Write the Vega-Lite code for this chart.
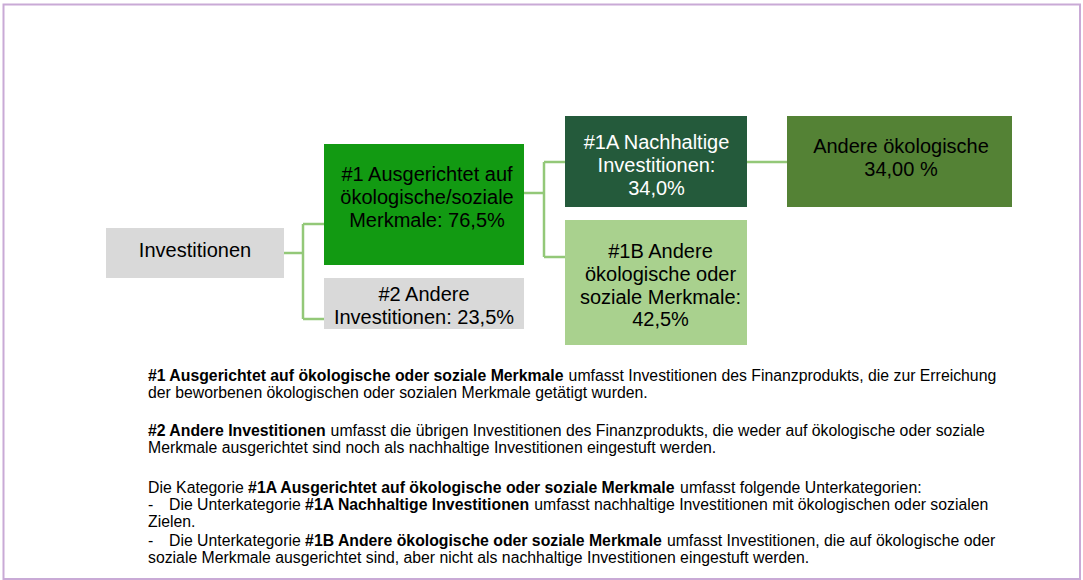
{
  "$schema": "https://vega.github.io/schema/vega-lite/v6.json",
  "width": 1083,
  "height": 580,
  "autosize": {"type": "fit", "contains": "padding"},
  "padding": 0,
  "background": "white",
  "config": {"view": {"stroke": null}},
  "datasets": {
    "boxes": [
      {"id": "inv", "label": "Investitionen", "x0": 106, "x1": 284, "y0": 228, "y1": 278, "tx": 195, "ty": 251},
      {"id": "b1", "label": "#1 Ausgerichtet auf\nökologische/soziale\nMerkmale: 76,5%", "x0": 324, "x1": 524, "y0": 144, "y1": 265, "tx": 427, "ty": 175},
      {"id": "b2", "label": "#2 Andere\nInvestitionen: 23,5%", "x0": 324, "x1": 524, "y0": 278, "y1": 329, "tx": 424, "ty": 295},
      {"id": "b1A", "label": "#1A Nachhaltige\nInvestitionen:\n34,0%", "x0": 565, "x1": 747, "y0": 116, "y1": 207, "tx": 656.5, "ty": 143},
      {"id": "oth", "label": "Andere ökologische\n34,00 %", "x0": 787, "x1": 1012, "y0": 116, "y1": 207, "tx": 901, "ty": 147},
      {"id": "b1B", "label": "#1B Andere\nökologische oder\nsoziale Merkmale:\n42,5%", "x0": 565, "x1": 747, "y0": 220, "y1": 345, "tx": 660.5, "ty": 252}
    ],
    "links": [
      {"x": 284, "x2": 303, "y": 253, "y2": 253},
      {"x": 303, "x2": 303, "y": 224, "y2": 319},
      {"x": 303, "x2": 324, "y": 224, "y2": 224},
      {"x": 303, "x2": 324, "y": 319, "y2": 319},
      {"x": 524, "x2": 544, "y": 193, "y2": 193},
      {"x": 544, "x2": 544, "y": 162, "y2": 257},
      {"x": 544, "x2": 565, "y": 162, "y2": 162},
      {"x": 544, "x2": 565, "y": 257, "y2": 257},
      {"x": 747, "x2": 787, "y": 162, "y2": 162}
    ],
    "notes": [
      {"line": 381, "col": 148, "text": "#1 Ausgerichtet auf ökologische oder soziale Merkmale", "bold": true},
      {"line": 381, "col": 568.6, "text": "umfasst Investitionen des Finanzprodukts, die zur Erreichung", "bold": false},
      {"line": 398, "col": 148, "text": "der beworbenen ökologischen oder sozialen Merkmale getätigt wurden.", "bold": false},
      {"line": 436, "col": 148, "text": "#2 Andere Investitionen", "bold": true},
      {"line": 436, "col": 330.6, "text": "umfasst die übrigen Investitionen des Finanzprodukts, die weder auf ökologische oder soziale", "bold": false},
      {"line": 453, "col": 148, "text": "Merkmale ausgerichtet sind noch als nachhaltige Investitionen eingestuft werden.", "bold": false},
      {"line": 493, "col": 148, "text": "Die Kategorie", "bold": false},
      {"line": 493, "col": 248.1, "text": "#1A Ausgerichtet auf ökologische oder soziale Merkmale", "bold": true},
      {"line": 493, "col": 680.1, "text": "umfasst folgende Unterkategorien:", "bold": false},
      {"line": 510, "col": 148, "text": "-", "bold": false},
      {"line": 510, "col": 169, "text": "Die Unterkategorie", "bold": false},
      {"line": 510, "col": 305.1, "text": "#1A Nachhaltige Investitionen", "bold": true},
      {"line": 510, "col": 534.3, "text": "umfasst nachhaltige Investitionen mit ökologischen oder sozialen", "bold": false},
      {"line": 527, "col": 148, "text": "Zielen.", "bold": false},
      {"line": 546, "col": 148, "text": "-", "bold": false},
      {"line": 546, "col": 169, "text": "Die Unterkategorie", "bold": false},
      {"line": 546, "col": 305.1, "text": "#1B Andere ökologische oder soziale Merkmale", "bold": true},
      {"line": 546, "col": 666.9, "text": "umfasst Investitionen, die auf ökologische oder", "bold": false},
      {"line": 563, "col": 148, "text": "soziale Merkmale ausgerichtet sind, aber nicht als nachhaltige Investitionen eingestuft werden.", "bold": false}
    ]
  },
  "layer": [
    {
      "data": {"values": [{"x0": 3.5, "x1": 1080, "y0": 4.5, "y1": 579}]},
      "mark": {"type": "rect", "fill": null, "stroke": "#c9aad6", "strokeWidth": 2},
      "encoding": {
        "x": {"field": "x0", "type": "quantitative", "scale": {"domain": [0, 1083], "nice": false, "zero": false}, "axis": null},
        "x2": {"field": "x1"},
        "y": {"field": "y0", "type": "quantitative", "scale": {"domain": [0, 580], "nice": false, "zero": false, "reverse": true}, "axis": null},
        "y2": {"field": "y1"}
      }
    },
    {
      "data": {"name": "links"},
      "mark": {"type": "rule", "color": "#93c878", "strokeWidth": 2.5},
      "encoding": {
        "x": {"field": "x", "type": "quantitative", "scale": {"domain": [0, 1083], "nice": false, "zero": false}, "axis": null},
        "x2": {"field": "x2"},
        "y": {"field": "y", "type": "quantitative", "scale": {"domain": [0, 580], "nice": false, "zero": false, "reverse": true}, "axis": null},
        "y2": {"field": "y2"}
      }
    },
    {
      "data": {"name": "boxes"},
      "mark": {"type": "rect"},
      "encoding": {
        "x": {"field": "x0", "type": "quantitative", "scale": {"domain": [0, 1083], "nice": false, "zero": false}, "axis": null},
        "x2": {"field": "x1"},
        "y": {"field": "y0", "type": "quantitative", "scale": {"domain": [0, 580], "nice": false, "zero": false, "reverse": true}, "axis": null},
        "y2": {"field": "y1"},
        "color": {
          "field": "id", "type": "nominal", "legend": null,
          "scale": {"domain": ["inv", "b1", "b2", "b1A", "oth", "b1B"], "range": ["#d9d9d9", "#129a12", "#d9d9d9", "#245a3b", "#548235", "#a9d18e"]}
        }
      }
    },
    {
      "data": {"name": "boxes"},
      "mark": {"type": "text", "font": "Liberation Sans", "fontSize": 20, "lineBreak": "\n", "lineHeight": 22.8, "align": "center", "baseline": "middle"},
      "encoding": {
        "x": {"field": "tx", "type": "quantitative", "scale": {"domain": [0, 1083], "nice": false, "zero": false}, "axis": null},
        "y": {"field": "ty", "type": "quantitative", "scale": {"domain": [0, 580], "nice": false, "zero": false, "reverse": true}, "axis": null},
        "text": {"field": "label"},
        "color": {"condition": {"test": "datum.id === 'b1A'", "value": "#ffffff"}, "value": "#000000"}
      }
    },
    {
      "data": {"name": "notes"},
      "transform": [{"filter": "!datum.bold"}],
      "mark": {"type": "text", "font": "Liberation Sans", "fontSize": 15.8, "align": "left", "baseline": "alphabetic", "color": "#000000"},
      "encoding": {
        "x": {"field": "col", "type": "quantitative", "scale": {"domain": [0, 1083], "nice": false, "zero": false}, "axis": null},
        "y": {"field": "line", "type": "quantitative", "scale": {"domain": [0, 580], "nice": false, "zero": false, "reverse": true}, "axis": null},
        "text": {"field": "text"}
      }
    },
    {
      "data": {"name": "notes"},
      "transform": [{"filter": "datum.bold"}],
      "mark": {"type": "text", "font": "Liberation Sans", "fontSize": 15.8, "fontWeight": "bold", "align": "left", "baseline": "alphabetic", "color": "#000000"},
      "encoding": {
        "x": {"field": "col", "type": "quantitative", "scale": {"domain": [0, 1083], "nice": false, "zero": false}, "axis": null},
        "y": {"field": "line", "type": "quantitative", "scale": {"domain": [0, 580], "nice": false, "zero": false, "reverse": true}, "axis": null},
        "text": {"field": "text"}
      }
    }
  ]
}
